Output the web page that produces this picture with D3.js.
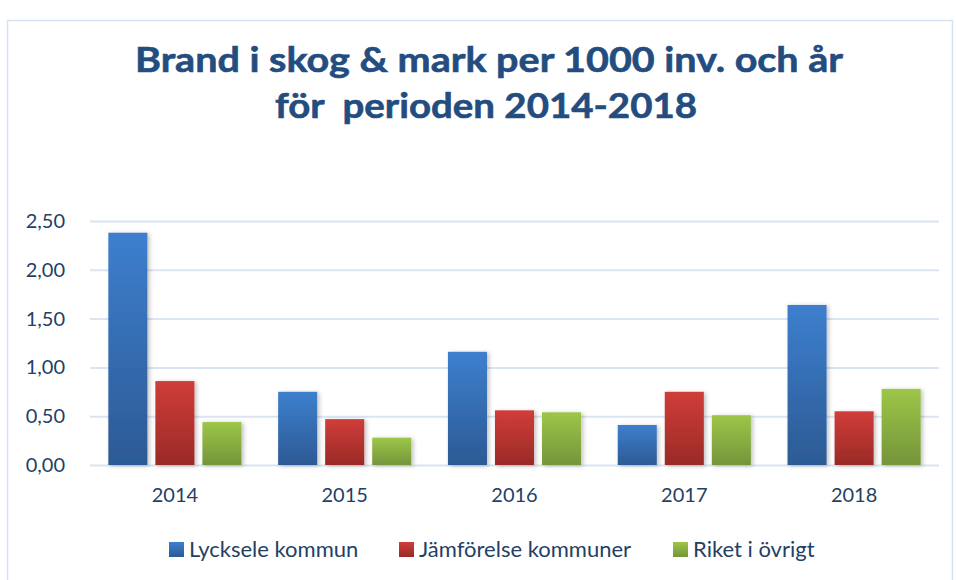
<!DOCTYPE html>
<html>
<head>
<meta charset="utf-8">
<script src="https://cdn.jsdelivr.net/npm/d3@7"></script>
<style>
  body { margin: 0; background: #fff; }
  text { font-family: Lato, "Open Sans", sans-serif; }
</style>
</head>
<body>
<div id="chart"></div>
<script>
"use strict"

// data
let years = ["2014", "2015", "2016", "2017", "2018"];
let seriesNames = ["Lycksele kommun", "Jämförelse kommuner", "Riket i övrigt"];
let lycksele = [2.38, 0.75, 1.16, 0.41, 1.64];
let jamforelse = [0.86, 0.47, 0.56, 0.75, 0.55];
let riket = [0.44, 0.28, 0.54, 0.51, 0.78];
let yTicks = [0, 0.5, 1, 1.5, 2, 2.5];
let titleLines = ["Brand i skog & mark per 1000 inv. och år", "för  perioden 2014-2018"];

let seriesValues = [lycksele, jamforelse, riket];
let colors = [
  {top: "#3d7fce", bottom: "#2c5a94"},
  {top: "#d03d39", bottom: "#9a2a27"},
  {top: "#9dc648", bottom: "#74953a"}
];

let width = 956;
let height = 580;
let margin = {left: 90, right: 17, top: 221, bottom: 115};

let svg = d3.select("#chart").append("svg")
            .attr("width", width)
            .attr("height", height);

let defs = svg.append("defs");
colors.forEach(function(c, i) {
  let g = defs.append("linearGradient")
              .attr("id", "grad" + i)
              .attr("x1", 0).attr("y1", 0)
              .attr("x2", 0).attr("y2", 1);
  g.append("stop").attr("offset", "0%").attr("stop-color", c.top);
  g.append("stop").attr("offset", "100%").attr("stop-color", c.bottom);
});
defs.append("filter")
    .attr("id", "shadow")
    .attr("x", "-20%").attr("y", "-20%")
    .attr("width", "150%").attr("height", "150%")
    .append("feDropShadow")
    .attr("dx", 2).attr("dy", 1)
    .attr("stdDeviation", 2)
    .attr("flood-color", "#000")
    .attr("flood-opacity", 0.25);

// outer border
svg.append("rect")
   .attr("x", 7.5).attr("y", 20.5)
   .attr("width", 945).attr("height", 570)
   .attr("fill", "none")
   .attr("stroke", "#d6e2f1")
   .attr("stroke-width", 1.5);

// title
let title = svg.append("g").attr("class", "title");
let titleY = [72, 118];
let titleX = [489, 486];
let titleW = [708, 422];
titleLines.forEach(function(t, i) {
  title.append("text")
       .attr("x", titleX[i])
       .attr("y", titleY[i])
       .attr("text-anchor", "middle")
       .attr("font-size", 35)
       .attr("font-weight", "bold")
       .attr("fill", "#234c7f")
       .attr("stroke", "#234c7f")
       .attr("stroke-width", 0.6)
       .style("white-space", "pre")
       .attr("textLength", titleW[i])
       .attr("lengthAdjust", "spacingAndGlyphs")
       .text(t);
});

let x0 = d3.scaleBand()
           .domain(years)
           .range([margin.left, width - margin.right])
           .padding(0);

let x1 = d3.scaleBand()
           .domain(d3.range(seriesNames.length))
           .range([0, x0.bandwidth()])
           .paddingInner(0.17)
           .paddingOuter(0.39);

let y = d3.scaleLinear()
          .domain([0, 2.5])
          .range([465, 221]);

let locale = d3.formatLocale({decimal: ",", thousands: " ", grouping: [3], currency: ["", " kr"]});
let fmt = locale.format(".2f");

// grid lines
let yAxis = svg.append("g")
               .attr("class", "y-axis")
               .attr("transform", "translate(" + margin.left + ",0)")
               .call(d3.axisLeft(y)
                       .tickValues(yTicks)
                       .tickFormat(fmt)
                       .tickSize(-(width - margin.right - margin.left))
                       .tickPadding(25));
yAxis.select(".domain").remove();
yAxis.selectAll(".tick line")
     .attr("stroke", "#dae4f2")
     .attr("stroke-width", 2);
yAxis.selectAll(".tick text")
     .attr("font-size", 20)
     .attr("fill", "#243f66");

// bars
let groups = svg.append("g")
                .selectAll("g")
                .data(years)
                .join("g")
                .attr("transform", function(d) { return "translate(" + x0(d) + ",0)"; });

groups.selectAll("rect")
      .data(function(d, i) {
        return seriesValues.map(function(vals, s) { return {s: s, v: vals[i]}; });
      })
      .join("rect")
      .attr("x", function(d) { return x1(d.s); })
      .attr("y", function(d) { return y(d.v); })
      .attr("width", x1.bandwidth())
      .attr("height", function(d) { return y(0) - y(d.v); })
      .attr("fill", function(d) { return "url(#grad" + d.s + ")"; })
      .attr("filter", "url(#shadow)");

// x axis labels
let xAxis = svg.append("g")
               .attr("class", "x-axis")
               .attr("transform", "translate(0," + y(0) + ")")
               .call(d3.axisBottom(x0).tickSize(0).tickPadding(23));
xAxis.select(".domain").remove();
xAxis.selectAll(".tick text")
     .attr("font-size", 20)
     .attr("fill", "#243f66");

// legend
let legendX = [169, 399, 673];
let legend = svg.append("g")
                .selectAll("g")
                .data(seriesNames)
                .join("g")
                .attr("transform", function(d, i) { return "translate(" + legendX[i] + ",542)"; });
legend.append("rect")
      .attr("width", 15)
      .attr("height", 15)
      .attr("fill", function(d, i) { return "url(#grad" + i + ")"; });
legend.append("text")
      .attr("x", 20)
      .attr("y", 15)
      .attr("font-size", 22)
      .attr("fill", "#243f66")
      .text(function(d) { return d; });
</script>
</body>
</html>
